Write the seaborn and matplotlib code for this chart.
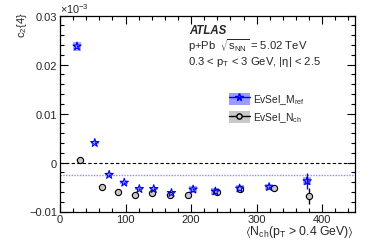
import matplotlib
matplotlib.use("Agg")
import matplotlib.pyplot as plt
import numpy as np
import pandas as pd
import seaborn as sns
from matplotlib.lines import Line2D
from matplotlib.patches import Patch
from matplotlib.ticker import MultipleLocator

# EvSel_M_ref (blue stars)
mref_x = [26, 53, 75, 98, 121, 143, 170, 203, 237, 274, 319, 377]
mref_y = [0.0237, 0.0040, -0.0025, -0.0041, -0.0054, -0.0054, -0.0062,
          -0.0055, -0.0059, -0.0053, -0.0050, -0.0038]
mref_err = [0.0002, 0.0002, 0.0002, 0.0002, 0.0002, 0.0002, 0.0002,
            0.0002, 0.0002, 0.0002, 0.0003, 0.0016]
mref_sys = [0.0009, 0.0003, 0.0003, 0.0003, 0.0003, 0.0003, 0.0003,
            0.0007, 0.0007, 0.0007, 0.0007, 0.0008]

# EvSel_N_ch (grey circles)
nch_x = [30, 64, 89, 115, 141, 168, 196, 239, 275, 327, 380]
nch_y = [0.0005, -0.0049, -0.0061, -0.0066, -0.0063, -0.0067, -0.0066,
         -0.0060, -0.0054, -0.0052, -0.0068]
nch_err = [0.0003, 0.0002, 0.0002, 0.0002, 0.0002, 0.0002, 0.0002,
           0.0002, 0.0002, 0.0003, 0.0016]
nch_sys = [0.0002] * 11

ref_level = -0.0026  # blue dotted reference line

y_ticks = [-0.01, 0, 0.01, 0.02, 0.03]
y_tick_labels = ["\u22120.01", "0", "0.01", "0.02", "0.03"]
x_ticks = [0, 100, 200, 300, 400]

sns.set_theme(style="ticks")
plt.rcParams["font.family"] = ["Liberation Sans", "DejaVu Sans"]
plt.rcParams["mathtext.default"] = "regular"

blue = "#0000ff"
box_blue = "#9a9aff"
box_grey = "#c8c8c8"

fig = plt.figure(figsize=(3.74, 2.53), dpi=100)
ax = fig.add_axes([60 / 374, 40.5 / 253, 295 / 374, 196 / 253])

mref = pd.DataFrame({"x": mref_x, "y": mref_y, "err": mref_err, "sys": mref_sys})
nch = pd.DataFrame({"x": nch_x, "y": nch_y, "err": nch_err, "sys": nch_sys})

# reference lines
ax.axhline(0, color="black", lw=0.8, ls=(0, (3, 2)), zorder=1)
ax.axhline(ref_level, color="#8c8cff", lw=1.0, ls=(0, (1, 1)), zorder=1)

# systematic boxes
ax.bar(mref["x"], 2 * mref["sys"], bottom=mref["y"] - mref["sys"], width=12,
       color=box_blue, alpha=0.85, lw=0, zorder=2)
ax.bar(nch["x"], 2 * nch["sys"], bottom=nch["y"] - nch["sys"], width=12,
       color=box_grey, alpha=0.6, lw=0, zorder=2)

# statistical errors
ax.errorbar(mref["x"], mref["y"], yerr=mref["err"], fmt="none",
            ecolor=blue, elinewidth=1.0, capsize=0, zorder=3)
ax.errorbar(nch["x"], nch["y"], yerr=nch["err"], fmt="none",
            ecolor="black", elinewidth=1.0, capsize=0, zorder=3)

sns.scatterplot(data=nch, x="x", y="y", marker="o", s=20, color="#c8c8c8",
                edgecolor="black", linewidth=0.8, ax=ax, legend=False, zorder=4)
sns.scatterplot(data=mref, x="x", y="y", marker="*", s=38, color="none",
                edgecolor=blue, linewidth=0.8, ax=ax, legend=False, zorder=5)

ax.set_xlim(0, 450)
ax.set_ylim(-0.01, 0.03)
ax.set_xticks(x_ticks)
ax.set_yticks(y_ticks)
ax.set_yticklabels(y_tick_labels)
ax.xaxis.set_minor_locator(MultipleLocator(20))
ax.yaxis.set_minor_locator(MultipleLocator(0.002))
ax.tick_params(which="both", direction="in", top=True, right=True,
               labelsize=8, width=0.8, color="black", pad=2)
ax.tick_params(which="major", length=6)
ax.tick_params(which="minor", length=3)
ax.set_xlabel("")
ax.set_ylabel("")
for sp in ax.spines.values():
    sp.set_linewidth(0.9)
    sp.set_color("black")

# axis titles and multiplier
fig.text(22 / 374, 1 - 25 / 253, "c$_2${4}", rotation=90, ha="center",
         va="center", fontsize=8)
fig.text(60 / 374, 1 - 9 / 253, "\u00d710$^{-3}$", ha="left", va="center",
         fontsize=7.8)
fig.text(354 / 374, 1 - 232 / 253,
         r"$\langle$N$_{ch}$(p$_T$ > 0.4 GeV)$\rangle$",
         ha="right", va="center", fontsize=8.8)

# labels
fig.text(189 / 374, 1 - 31 / 253, "ATLAS", fontsize=8.3, fontweight="bold",
         fontstyle="italic", ha="left", va="center")
fig.text(188 / 374, 1 - 46 / 253, r"p+Pb  $\sqrt{s_{NN}}$ = 5.02 TeV",
         fontsize=8.1, ha="left", va="center")
fig.text(188 / 374, 1 - 62 / 253, "0.3 < p$_T$ < 3 GeV, |\u03b7| < 2.5",
         fontsize=8.1, ha="left", va="center")

# legend
h_mref = (Patch(facecolor=box_blue, edgecolor="none"),
          Line2D([], [], color=blue, lw=1.0, marker="*", markersize=5.5,
                 markerfacecolor="none", markeredgecolor=blue))
h_nch = (Patch(facecolor=box_grey, edgecolor="none"),
         Line2D([], [], color="black", lw=1.0, marker="o", markersize=3.8,
                markerfacecolor=box_grey, markeredgecolor="black"))
fig.legend([h_mref, h_nch], ["EvSel_M$_{ref}$", "EvSel_N$_{ch}$"],
           loc="upper left", bbox_to_anchor=(222 / 374, 1 - 86 / 253),
           frameon=False, fontsize=7.4, handlelength=2.0, handleheight=1.4,
           handletextpad=0.35, labelspacing=0.45, borderpad=0.2)

fig.savefig("out.png", dpi=100)
